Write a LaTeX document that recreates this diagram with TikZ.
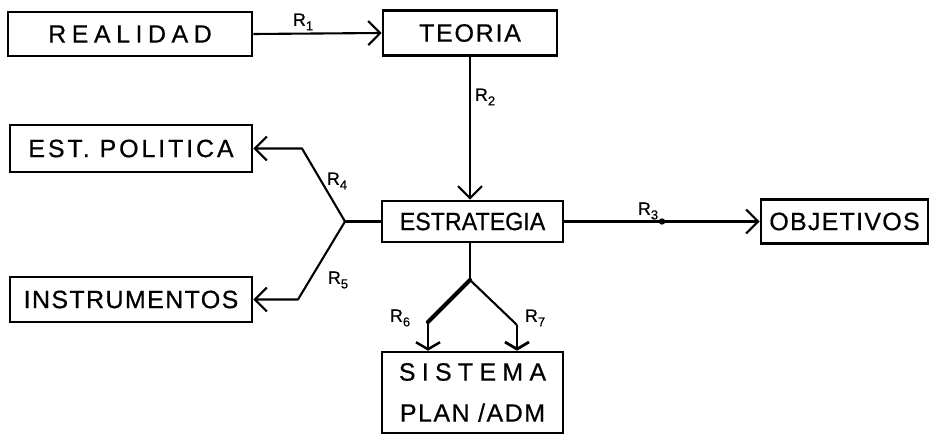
\documentclass[tikz,border=0pt]{standalone}
\usepackage{fontspec}
\setmainfont{Liberation Sans}[FakeBold=0.6]
\usetikzlibrary{arrows.meta,calc}
\newcommand{\lsp}[2]{{\addfontfeatures{LetterSpace=#1}#2}}
\newcommand{\Rlab}[1]{{\fontsize{18}{18}\selectfont R\raisebox{-4.5pt}{\fontsize{13}{13}\selectfont #1}}}
\begin{document}
\begin{tikzpicture}[x=1pt,y=-1pt,
  box/.style={draw, line width=2.6pt, inner sep=0pt, font=\fontsize{25}{41}\selectfont},
  conn/.style={line width=2.1pt, line join=round},
  arr/.style={conn, -{Straight Barb[length=12pt,width=24pt]}},
  arrflat/.style={conn, -{Straight Barb[length=7pt,width=24pt]}},
  rl/.style={inner sep=0pt}]
\useasboundingbox (0,0) rectangle (934,435);
% boxes
\node[box, minimum width=244pt, minimum height=44pt] (real) at (130,34) {\lsp{22}{REALIDAD}};
\node[box, minimum width=174pt, minimum height=45pt] (teor) at (470,33) {\lsp{7}{TEORIA}\hspace{26pt}};
\node[box, minimum width=181pt, minimum height=41pt] (estr) at (472.5,221.5) {{\addfontfeatures{FakeStretch=0.93}ESTRATEGIA}\hspace{10pt}};
\node[box, minimum width=167pt, minimum height=44pt] (obj) at (844.5,221.5) {\lsp{5}{OBJETIVOS}};
\node[box, minimum width=242pt, minimum height=47pt] (pol) at (131,148.5) {\lsp{11.5}{EST. POLITICA}};
\node[box, minimum width=242pt, minimum height=45pt] (ins) at (131,299.5) {\lsp{5.5}{INSTRUMENTOS}\hspace{10pt}};
\node[box, minimum width=181pt, minimum height=81pt, align=center] (sis) at (472.5,392.5) {\lsp{25}{SISTEMA}\\\lsp{6}{PLAN /ADM}};
% coordinates
\coordinate (jL) at (345,221.5);
\coordinate (bP) at (302,148.5);
\coordinate (bI) at (298,299.5);
\coordinate (jB) at (470,280);
\coordinate (b6) at (428,322);
\coordinate (b7) at (517,325);
% connectors
\draw[arr] (real.east) -- (teor.west);
\draw[arr] (teor.south) -- (teor.south |- estr.north);
\draw[arr] (estr.east) -- (obj.west);
\fill ($(estr.east)!0.5!(obj.west)$) circle (3.2pt);
\draw[conn] (estr.west) -- (jL);
\draw[arr] (jL) -- (bP) -- (pol.east);
\draw[arr] (jL) -- (bI) -- (ins.east);
\draw[conn, line width=2.5pt] (jB |- estr.south) -- (jB);
\draw[line width=4.2pt, line join=round, line cap=round] (jB) -- (b6);
\draw[arrflat, line width=2.5pt] (b6) -- (b6 |- sis.north);
\draw[conn] (jB) -- (b7);
\draw[arrflat, line width=2.8pt] (b7) -- (b7 |- sis.north);
% labels
\node[rl] (r1) at (303,22) {\Rlab{1}};
\node[rl] (r2) at (485,97) {\Rlab{2}};
\node[rl] (r3) at (648,211) {\Rlab{3}};
\node[rl] (r4) at (337,181) {\Rlab{4}};
\node[rl] (r5) at (338,280) {\Rlab{5}};
\node[rl] (r6) at (400,318) {\Rlab{6}};
\node[rl] (r7) at (535,318) {\Rlab{7}};
\end{tikzpicture}
\end{document}
